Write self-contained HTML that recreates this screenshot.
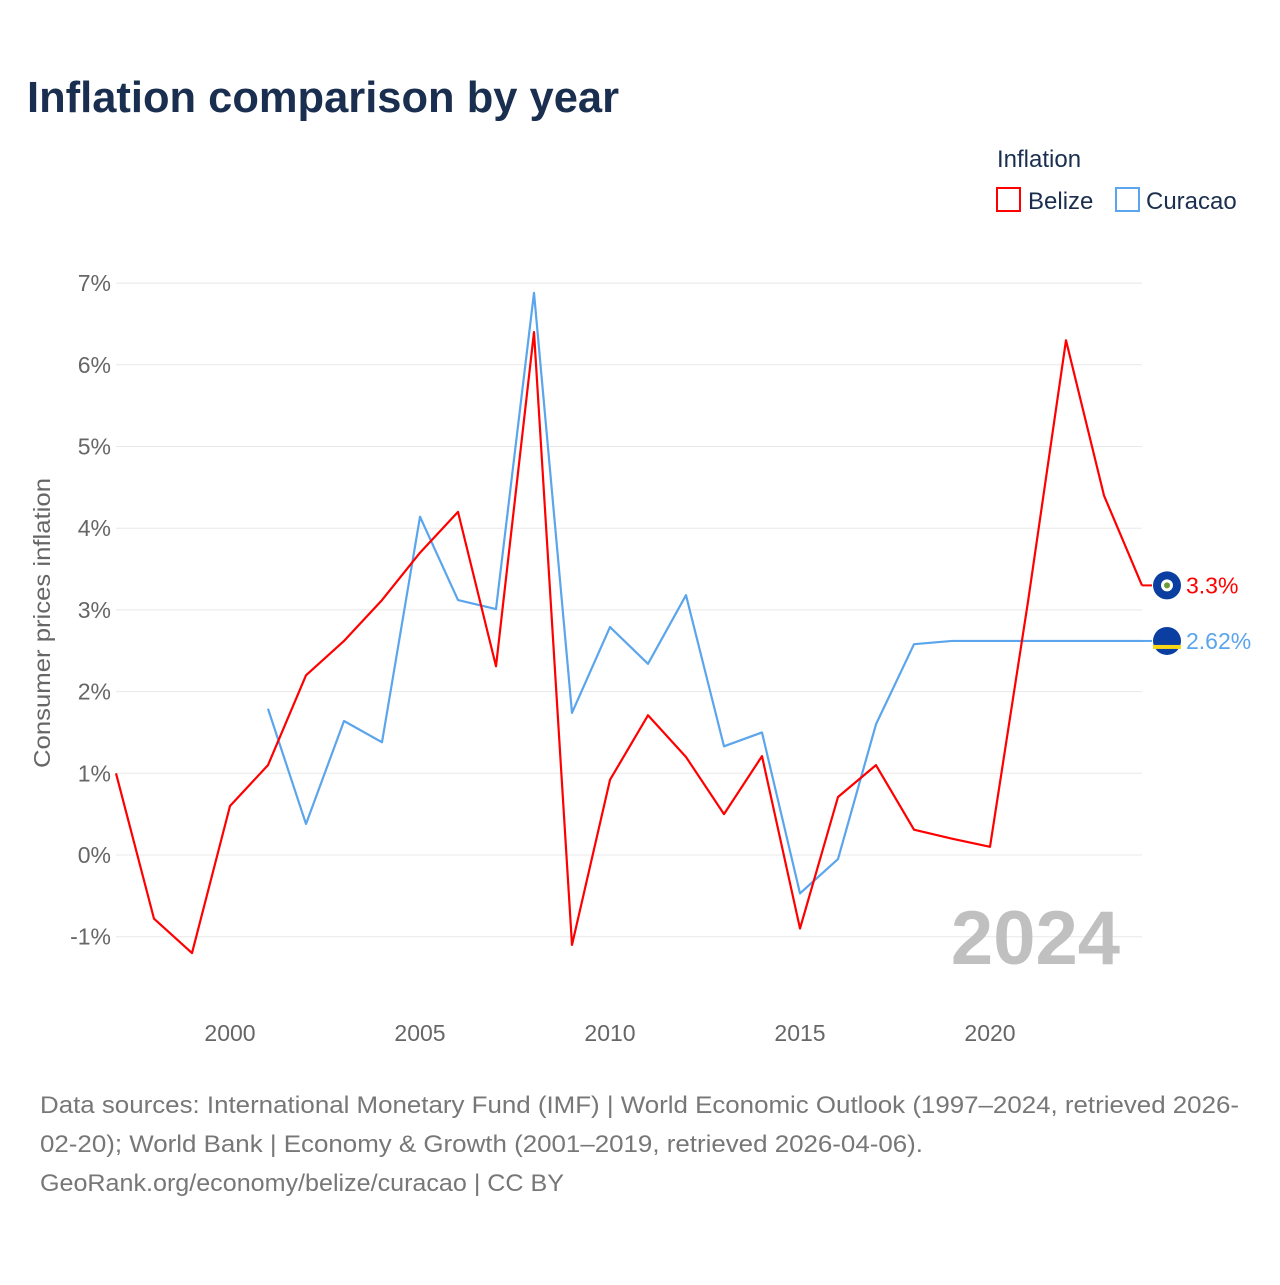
<!DOCTYPE html>
<html><head><meta charset="utf-8"><style>
body{margin:0;background:#fff;font-family:"Liberation Sans",sans-serif;}
</style></head><body>
<svg width="1280" height="1280" xmlns="http://www.w3.org/2000/svg" id="svg">
<rect width="1280" height="1280" fill="#fff"/>
<text x="27" y="112" font-size="44" font-weight="bold" fill="#1a2e4f" textLength="592" lengthAdjust="spacingAndGlyphs">Inflation comparison by year</text>
<text x="997" y="167" font-size="24" fill="#1a2e4f">Inflation</text>
<g><rect x="997" y="188" width="23" height="23" fill="none" stroke="#ff0000" stroke-width="2"/><text x="1028" y="209" font-size="24" fill="#1a2e4f">Belize</text></g>
<g><rect x="1116" y="188" width="23" height="23" fill="none" stroke="#5aa5ec" stroke-width="2"/><text x="1146" y="209" font-size="24" fill="#1a2e4f">Curacao</text></g>
<text transform="translate(50,623) rotate(-90)" text-anchor="middle" font-size="23" fill="#666" textLength="290" lengthAdjust="spacingAndGlyphs">Consumer prices inflation</text>
<g id="grid"></g><g id="lines"></g>
<text x="1120" y="964" text-anchor="end" font-size="76" font-weight="bold" fill="#c0c0c0">2024</text>
<text x="40" y="1113" font-size="24" fill="#777" textLength="1199" lengthAdjust="spacingAndGlyphs">Data sources: International Monetary Fund (IMF) | World Economic Outlook (1997–2024, retrieved 2026-</text>
<text x="40" y="1152" font-size="24" fill="#777" textLength="883" lengthAdjust="spacingAndGlyphs">02-20); World Bank | Economy &amp; Growth (2001–2019, retrieved 2026-04-06).</text>
<text x="40" y="1191" font-size="24" fill="#777" textLength="524" lengthAdjust="spacingAndGlyphs">GeoRank.org/economy/belize/curacao | CC BY</text>
</svg>
<script>
const belizeYears=[1997,1998,1999,2000,2001,2002,2003,2004,2005,2006,2007,2008,2009,2010,2011,2012,2013,2014,2015,2016,2017,2018,2019,2020,2021,2022,2023,2024];
const belizeValues=[1.0,-0.78,-1.2,0.6,1.1,2.2,2.62,3.12,3.7,4.2,2.31,6.4,-1.1,0.92,1.71,1.2,0.5,1.21,-0.9,0.71,1.1,0.31,0.2,0.1,3.1,6.3,4.4,3.3];
const curacaoYears=[2001,2002,2003,2004,2005,2006,2007,2008,2009,2010,2011,2012,2013,2014,2015,2016,2017,2018,2019,2020,2021,2022,2023,2024];
const curacaoValues=[1.79,0.38,1.64,1.38,4.14,3.12,3.01,6.88,1.74,2.79,2.34,3.18,1.33,1.5,-0.47,-0.05,1.6,2.58,2.62,2.62,2.62,2.62,2.62,2.62];
const yTicks=[-1,0,1,2,3,4,5,6,7];
const xTicks=[2000,2005,2010,2015,2020];
const NS="http://www.w3.org/2000/svg";
const xs=y=>116+(y-1997)*38;
const ys=v=>855-v*81.7;
const grid=document.getElementById('grid'),lines=document.getElementById('lines');
function mk(tag,attrs,parent,txt){const e=document.createElementNS(NS,tag);for(const k in attrs)e.setAttribute(k,attrs[k]);if(txt!=null)e.textContent=txt;parent.appendChild(e);return e;}
yTicks.forEach(t=>{
 const l=mk('line',{x1:116,x2:1142,y1:ys(t),y2:ys(t),stroke:'#e8e8e8','stroke-width':1},grid);
 
 
 const tx=mk('text',{x:111,y:ys(t)+8,'text-anchor':'end','font-size':23,fill:'#666'},grid,t+'%');
 
 
});
xTicks.forEach(t=>{
 const tx=mk('text',{x:xs(t),y:1041,'text-anchor':'middle','font-size':23,fill:'#666'},grid,String(t));
 
 
});
function series(years,vals,color,name){
 const d=years.map((y,i)=>(i?'L':'M')+xs(y)+','+ys(vals[i])).join(' ');
 const p=mk('path',{d:d,fill:'none',stroke:color,'stroke-width':2.2,'stroke-linejoin':'round'},lines);
 
 
}
series(curacaoYears,curacaoValues,'#5aa5ec','curacao');
series(belizeYears,belizeValues,'#ff0000','belize');
function endLabel(vals,color,name,label){
 const v=vals[vals.length-1],y=ys(v);
 const c=mk('line',{x1:1142,x2:1152,y1:y,y2:y,stroke:color,'stroke-width':2},lines);
 
 
 const f=mk('circle',{cx:1167,cy:y,r:14,fill:'#0a3ea0'},lines);
 
 
 if(name==='belize'){mk('circle',{cx:1167,cy:y,r:6,fill:'#fff'},lines);mk('circle',{cx:1167,cy:y,r:3,fill:'#6a9a3a'},lines);}
 else{mk('rect',{x:1153,y:y+4,width:28,height:4,fill:'#f9d616'},lines);}
 const t=mk('text',{x:1186,y:y+8,'font-size':23,fill:color},lines,label);
 
 
}
endLabel(belizeValues,'#ff0000','belize','3.3%');
endLabel(curacaoValues,'#5aa5ec','curacao','2.62%');
</script>
</body></html>
